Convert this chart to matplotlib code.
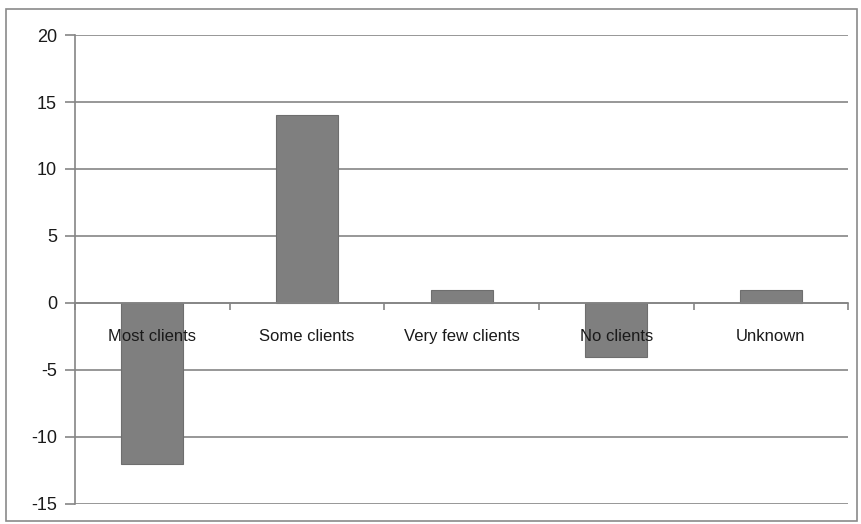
import matplotlib.pyplot as plt
import matplotlib.patches as mpatches
from matplotlib import font_manager

# data
categories = ["Most clients", "Some clients", "Very few clients", "No clients", "Unknown"]
values = [-12, 14, 1, -4, 1]
yticks = [-15, -10, -5, 0, 5, 10, 15, 20]

names = {f.name for f in font_manager.fontManager.ttflist}
fam = "Liberation Sans Narrow" if "Liberation Sans Narrow" in names else "Liberation Sans"
plt.rcParams['font.family'] = [fam, 'DejaVu Sans']

fig = plt.figure(figsize=(8.61, 5.24), dpi=100)
ax = fig.add_axes([0.0871, 0.0382, 0.898, 0.895])

# outer frame of the chart
fig.patches.append(mpatches.Rectangle((0.007, 0.006), 0.988, 0.977, transform=fig.transFigure,
                                      fill=False, edgecolor="#8a8a8a", linewidth=1.2))

grid_c = "#858585"
x = list(range(len(categories)))
ax.bar(x, values, width=0.4, color="#7f7f7f", edgecolor="#6e6e6e", linewidth=0.8, zorder=2)

ax.set_ylim(-15, 20)
ax.set_xlim(-0.5, len(categories) - 0.5)
ax.set_yticks(yticks)
ax.set_yticklabels([str(v) for v in yticks], fontsize=13, color="#1a1a1a")
ax.yaxis.grid(True, color=grid_c, linewidth=1.2, zorder=1)
ax.tick_params(axis='y', length=7, width=1.2, color=grid_c, pad=6)

ax.spines['top'].set_visible(False)
ax.spines['right'].set_visible(False)
ax.spines['left'].set_color(grid_c)
ax.spines['left'].set_linewidth(1.2)
ax.spines['bottom'].set_position(('data', 0))
ax.spines['bottom'].set_color(grid_c)
ax.spines['bottom'].set_linewidth(1.2)

ax.set_xticks([i - 0.5 for i in range(len(categories) + 1)])
ax.set_xticklabels([])
ax.tick_params(axis='x', length=5, width=1.2, color=grid_c, direction='out')

for i, c in enumerate(categories):
    ax.text(i, -2.5, c, ha='center', va='center', fontsize=12, color="#1a1a1a", zorder=3)

fig.savefig("out.png", dpi=100)
